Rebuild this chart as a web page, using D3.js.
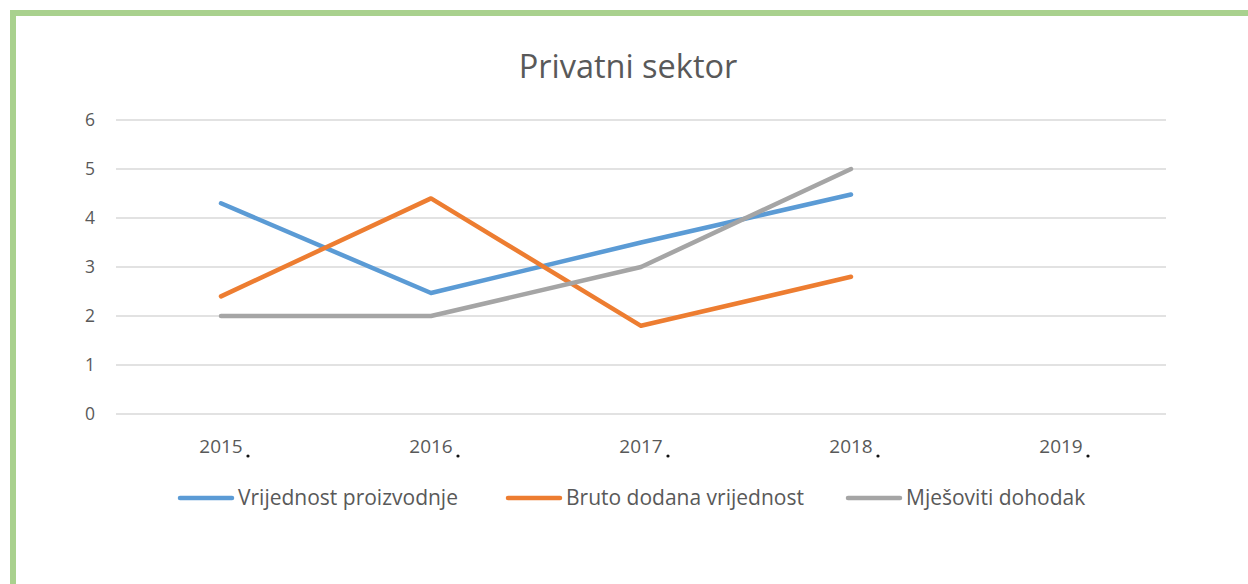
<!DOCTYPE html>
<html>
<head>
<meta charset="utf-8">
<script src="https://cdn.jsdelivr.net/npm/d3@7"></script>
<style>
  html, body { margin: 0; padding: 0; background: #fff; }
  svg { display: block; font-family: "Open Sans", "Noto Sans", sans-serif; }
</style>
</head>
<body>
<svg id="chart"></svg>
<script>
const years = ["2015", "2016", "2017", "2018", "2019"]
const vrijednostProizvodnje = [4.3, 2.47, 3.5, 4.48]
const brutoDodana = [2.4, 4.4, 1.8, 2.8]
const mjesovitiDohodak = [2, 2, 3, 5]
const yTicks = [0, 1, 2, 3, 4, 5, 6]

const series = [
  { name: "Vrijednost proizvodnje", color: "#5B9BD5", values: vrijednostProizvodnje },
  { name: "Bruto dodana vrijednost", color: "#ED7D31", values: brutoDodana },
  { name: "Mješoviti dohodak", color: "#A5A5A5", values: mjesovitiDohodak },
]

const width = 1248, height = 584
const margin = { top: 120, right: 82, bottom: 170, left: 116 }

const svg = d3.select("#chart").attr("width", width).attr("height", height)

// green frame (top and left only visible)
svg.append("rect").attr("x", 10).attr("y", 10).attr("width", width).attr("height", 6).attr("fill", "#A9D18E")
svg.append("rect").attr("x", 10).attr("y", 10).attr("width", 6).attr("height", height).attr("fill", "#A9D18E")

const x = d3.scaleBand().domain(years).range([margin.left, width - margin.right])
const y = d3.scaleLinear().domain([0, 6]).range([height - margin.bottom, margin.top])

svg.append("text")
  .attr("x", 628).attr("y", 78)
  .attr("text-anchor", "middle")
  .attr("fill", "#595959")
  .style("font-size", "32.5px")
  .text("Privatni sektor")

// gridlines
svg.append("g")
  .selectAll("line")
  .data(yTicks)
  .join("line")
  .attr("x1", margin.left).attr("x2", width - margin.right)
  .attr("y1", d => y(d)).attr("y2", d => y(d))
  .attr("stroke", "#D9D9D9").attr("stroke-width", 1.5)

// y labels
svg.append("g")
  .selectAll("text")
  .data(yTicks)
  .join("text")
  .attr("x", 95).attr("y", d => y(d) + 6)
  .attr("text-anchor", "end")
  .attr("fill", "#595959")
  .style("font-size", "17.5px")
  .text(d => d)

// x labels
const xl = svg.append("g")
xl.selectAll("text")
  .data(years)
  .join("text")
  .attr("x", d => x(d) + x.bandwidth() / 2)
  .attr("y", 453)
  .attr("text-anchor", "middle")
  .attr("fill", "#595959")
  .style("font-size", "19px")
  .text(d => d)
xl.selectAll("circle")
  .data(years)
  .join("circle")
  .attr("cx", d => x(d) + x.bandwidth() / 2 + 27)
  .attr("cy", 456)
  .attr("r", 1.6)
  .attr("fill", "#111")

const line = d3.line()
  .x((d, i) => x(years[i]) + x.bandwidth() / 2)
  .y(d => y(d))

svg.append("g")
  .selectAll("path")
  .data(series)
  .join("path")
  .attr("d", d => line(d.values))
  .attr("fill", "none")
  .attr("stroke", d => d.color)
  .attr("stroke-width", 4.5)
  .attr("stroke-linecap", "round")
  .attr("stroke-linejoin", "round")

// legend
const legendX = [180, 508, 848]
const lg = svg.append("g")
  .selectAll("g")
  .data(series)
  .join("g")
  .attr("transform", (d, i) => `translate(${legendX[i]},498)`)
lg.append("line")
  .attr("x1", 0).attr("x2", 52).attr("y1", 0).attr("y2", 0)
  .attr("stroke", d => d.color).attr("stroke-width", 4.5).attr("stroke-linecap", "round")
lg.append("text")
  .attr("x", 58).attr("y", 7)
  .attr("fill", "#595959")
  .style("font-size", "21px")
  .text(d => d.name)
</script>
</body>
</html>
